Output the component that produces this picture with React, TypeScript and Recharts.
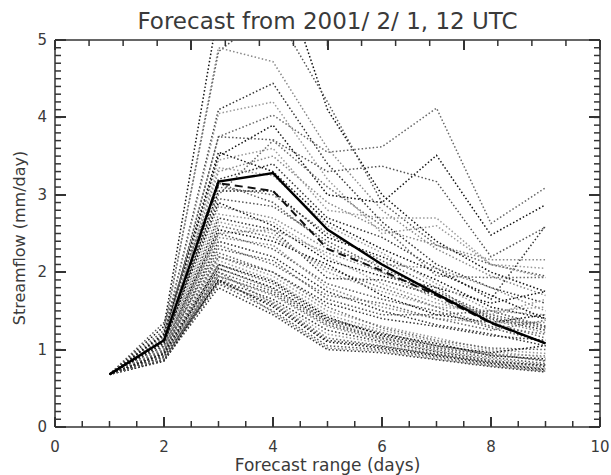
import React from 'react';
import { LineChart, Line, XAxis, YAxis } from 'recharts';

if (typeof document !== 'undefined') document.body.style.margin = '0';

const DAYS = [1, 2, 3, 4, 5, 6, 7, 8, 9];

// ensemble members, streamflow (mm/day) at forecast days 1..9
const MEMBERS: number[][] = [
  [0.68, 1.30, 5.40, 6.20, 4.10, 3.00, 2.40, 2.00, 1.75],
  [0.68, 1.25, 4.85, 5.40, 4.20, 2.90, 2.35, 2.10, 1.95],
  [0.68, 1.22, 4.90, 4.72, 3.60, 2.80, 2.30, 1.95, 1.70],
  [0.68, 1.20, 4.10, 4.44, 3.40, 2.65, 2.10, 1.80, 1.60],
  [0.68, 1.18, 4.05, 4.20, 3.20, 2.50, 2.60, 2.10, 2.05],
  [0.68, 1.15, 3.75, 4.03, 3.55, 3.62, 4.12, 2.63, 3.09],
  [0.68, 1.17, 3.50, 3.90, 3.00, 2.90, 3.51, 2.48, 2.87],
  [0.68, 1.12, 3.75, 3.71, 3.30, 3.37, 3.17, 2.20, 2.58],
  [0.68, 1.14, 3.30, 3.50, 2.90, 2.55, 2.35, 2.16, 2.16],
  [0.68, 1.10, 3.20, 3.40, 2.70, 2.45, 2.05, 1.65, 2.60],
  [0.68, 1.08, 3.45, 3.60, 2.80, 2.70, 2.70, 2.10, 1.93],
  [0.68, 1.13, 3.00, 3.70, 3.10, 2.60, 1.95, 1.93, 1.93],
  [0.68, 1.05, 3.05, 3.05, 2.45, 2.20, 1.90, 1.55, 1.40],
  [0.68, 1.10, 2.95, 2.85, 2.40, 2.05, 1.75, 1.45, 1.30],
  [0.68, 1.02, 2.85, 2.70, 2.30, 2.10, 2.05, 1.80, 1.50],
  [0.68, 1.00, 2.70, 2.55, 1.92, 1.90, 1.70, 1.40, 1.25],
  [0.68, 1.06, 2.75, 2.65, 2.20, 1.85, 1.60, 1.45, 1.65],
  [0.68, 0.98, 2.60, 2.45, 2.05, 1.80, 1.55, 1.30, 1.20],
  [0.68, 1.04, 2.55, 2.40, 2.10, 1.70, 1.45, 1.35, 1.45],
  [0.68, 0.97, 2.50, 2.30, 1.85, 1.65, 1.50, 1.28, 1.10],
  [0.68, 1.00, 2.45, 2.35, 1.80, 1.55, 1.40, 1.35, 1.35],
  [0.68, 0.95, 2.40, 2.20, 1.75, 1.50, 1.32, 1.20, 1.05],
  [0.68, 1.03, 2.65, 2.50, 2.00, 1.75, 1.55, 1.50, 1.55],
  [0.68, 0.96, 2.35, 2.10, 1.70, 1.60, 1.40, 1.25, 1.38],
  [0.68, 1.08, 2.90, 2.60, 2.15, 1.95, 1.80, 1.60, 1.75],
  [0.68, 0.99, 2.30, 2.15, 1.65, 1.45, 1.45, 1.50, 1.30],
  [0.68, 1.01, 2.50, 2.55, 2.25, 2.00, 1.65, 1.38, 1.22],
  [0.68, 0.94, 2.20, 2.00, 1.60, 1.40, 1.30, 1.18, 1.12],
  [0.68, 0.92, 2.15, 1.90, 1.45, 1.25, 1.10, 0.98, 0.90],
  [0.68, 0.90, 2.10, 1.85, 1.40, 1.22, 1.05, 0.95, 0.85],
  [0.68, 0.93, 2.05, 1.80, 1.38, 1.20, 1.08, 0.92, 0.88],
  [0.68, 0.88, 2.00, 1.75, 1.35, 1.15, 1.00, 0.90, 0.82],
  [0.68, 0.91, 1.95, 1.70, 1.30, 1.12, 0.98, 0.88, 0.80],
  [0.68, 0.87, 1.90, 1.65, 1.25, 1.10, 0.97, 0.86, 0.78],
  [0.68, 0.89, 1.85, 1.62, 1.20, 1.08, 0.95, 0.85, 0.76],
  [0.68, 0.86, 2.00, 1.60, 1.15, 1.05, 0.93, 0.83, 0.75],
  [0.68, 0.85, 1.90, 1.55, 1.10, 1.02, 0.92, 0.82, 0.74],
  [0.68, 0.88, 1.85, 1.50, 1.05, 1.00, 0.90, 0.80, 0.73],
  [0.68, 0.90, 1.95, 1.48, 1.02, 0.98, 0.88, 0.79, 0.72],
  [0.68, 0.86, 1.80, 1.45, 1.00, 0.96, 0.87, 0.78, 0.71],
  [0.68, 0.92, 2.20, 1.95, 1.50, 1.30, 1.15, 1.00, 0.95],
  [0.68, 0.94, 2.25, 2.00, 1.55, 1.28, 1.12, 1.02, 1.00],
  [0.68, 0.95, 2.10, 1.88, 1.42, 1.18, 1.05, 0.96, 1.05],
  [0.68, 0.87, 1.95, 1.72, 1.32, 1.14, 1.02, 0.93, 0.86],
  [0.68, 0.89, 2.05, 1.78, 1.36, 1.16, 1.03, 0.94, 0.92],
  [0.68, 0.91, 1.88, 1.58, 1.12, 1.04, 0.94, 0.84, 0.80],
  [0.68, 1.16, 3.35, 3.25, 2.60, 2.25, 1.85, 1.50, 1.45],
  [0.68, 1.12, 3.10, 3.00, 2.50, 2.15, 1.80, 1.35, 1.15],
  [0.68, 1.20, 3.55, 3.30, 2.65, 2.30, 2.00, 1.70, 1.40],
  [0.68, 1.35, 3.15, 2.90, 2.35, 2.00, 1.72, 1.42, 1.28],
];

const SOLID = [0.68, 1.12, 3.17, 3.28, 2.55, 2.10, 1.72, 1.35, 1.08];
const DASHED = [0.68, 1.12, 3.15, 3.05, 2.30, 2.02, 1.70, 1.34, 1.08];

const X_TICKS = [0, 0.5, 1, 1.5, 2, 2.5, 3, 3.5, 4, 4.5, 5, 5.5, 6, 6.5, 7, 7.5, 8, 8.5, 9, 9.5, 10];
const Y_TICKS = Array.from({ length: 51 }, (_, i) => i / 10);

const GREYS = ['#111', '#555', '#888', '#333', '#999', '#666'];
const AXIS = '#333';
const TEXT = '#3a3a3a';
const FONT = '"DejaVu Sans", sans-serif';

const rows = DAYS.map((d, j) => {
  const r: any = { day: d, solid: SOLID[j], dashed: DASHED[j] };
  MEMBERS.forEach((m, i) => (r['m' + i] = m[j]));
  return r;
});

const isMajor = (v: number, step: number) => Math.abs(v / step - Math.round(v / step)) < 1e-6;

// built-in tick lines point inward (negative tickSize); majors get an extra bit and a label
const BottomTick = (props: any) => {
  const { x, y, payload } = props;
  if (!isMajor(payload.value, 2)) return <g />;
  return (
    <g>
      <rect x={Math.round(x) - 1} y={y - 10} width={2} height={10} fill={AXIS} />
      <text x={x} y={y + 25} textAnchor="middle" fontSize={15} fontFamily={FONT} fill={TEXT}>
        {payload.value}
      </text>
    </g>
  );
};

const TopTick = (props: any) => {
  const { x, y, payload } = props;
  if (!isMajor(payload.value, 2)) return <g />;
  return <rect x={Math.round(x) - 1} y={y} width={2} height={10} fill={AXIS} />;
};

const LeftTick = (props: any) => {
  const { x, y, payload } = props;
  if (!isMajor(payload.value, 1)) return <g />;
  return (
    <g>
      <rect x={x} y={Math.round(y) - 1} width={11} height={2} fill={AXIS} />
      <text x={x - 8} y={y + 5} textAnchor="end" fontSize={15} fontFamily={FONT} fill={TEXT}>
        {Math.round(payload.value)}
      </text>
    </g>
  );
};

const RightTick = (props: any) => {
  const { x, y, payload } = props;
  if (!isMajor(payload.value, 1)) return <g />;
  return <rect x={x - 11} y={Math.round(y) - 1} width={11} height={2} fill={AXIS} />;
};

const line = { stroke: AXIS, strokeWidth: 1.5 };

export default function App() {
  return (
    <div style={{ position: 'relative', width: 611, height: 475, background: '#fff', fontFamily: FONT }}>
      <LineChart width={611} height={475} data={rows} margin={{ top: 39, right: 10, bottom: 47, left: 54 }}>
        <XAxis xAxisId="x" dataKey="day" type="number" domain={[0, 10]} ticks={X_TICKS} interval={0}
          allowDataOverflow height={1} tickSize={-6} tickMargin={6} tick={<BottomTick />}
          axisLine={line} tickLine={line} />
        <XAxis xAxisId="xt" orientation="top" type="number" domain={[0, 10]} ticks={X_TICKS} interval={0}
          allowDataOverflow height={1} tickSize={-6} tickMargin={6} tick={<TopTick />}
          axisLine={line} tickLine={line} />
        <YAxis yAxisId="y" type="number" domain={[0, 5]} ticks={Y_TICKS} interval={0}
          allowDataOverflow width={1} tickSize={-6} tickMargin={6} tick={<LeftTick />}
          axisLine={line} tickLine={line} />
        <YAxis yAxisId="yr" orientation="right" type="number" domain={[0, 5]} ticks={Y_TICKS} interval={0}
          allowDataOverflow width={1} tickSize={-6} tickMargin={6} tick={<RightTick />}
          axisLine={line} tickLine={line} />
        {MEMBERS.map((_, i) => (
          <Line key={i} xAxisId="x" yAxisId="y" type="linear" dataKey={'m' + i}
            stroke={GREYS[i % GREYS.length]} strokeWidth={1.5} strokeDasharray="1.5 2.2"
            dot={false} activeDot={false} isAnimationActive={false} />
        ))}
        <Line xAxisId="x" yAxisId="y" type="linear" dataKey="dashed" stroke="#111" strokeWidth={2}
          strokeDasharray="8 5" dot={false} isAnimationActive={false} />
        <Line xAxisId="x" yAxisId="y" type="linear" dataKey="solid" stroke="#000" strokeWidth={2.4}
          dot={false} isAnimationActive={false} />
      </LineChart>
      <div style={{ position: 'absolute', left: 55, width: 545, top: 8, textAlign: 'center', fontSize: 23, color: TEXT }}>
        Forecast from 2001/ 2/ 1, 12 UTC
      </div>
      <div style={{ position: 'absolute', left: 55, width: 545, top: 455, textAlign: 'center', fontSize: 17, color: TEXT }}>
        Forecast range (days)
      </div>
      <div style={{
        position: 'absolute', left: 20, top: 238, width: 240, marginLeft: -120, marginTop: -11,
        textAlign: 'center', fontSize: 16, lineHeight: '22px', color: TEXT, transform: 'rotate(-90deg)',
      }}>
        Streamflow (mm/day)
      </div>
    </div>
  );
}
